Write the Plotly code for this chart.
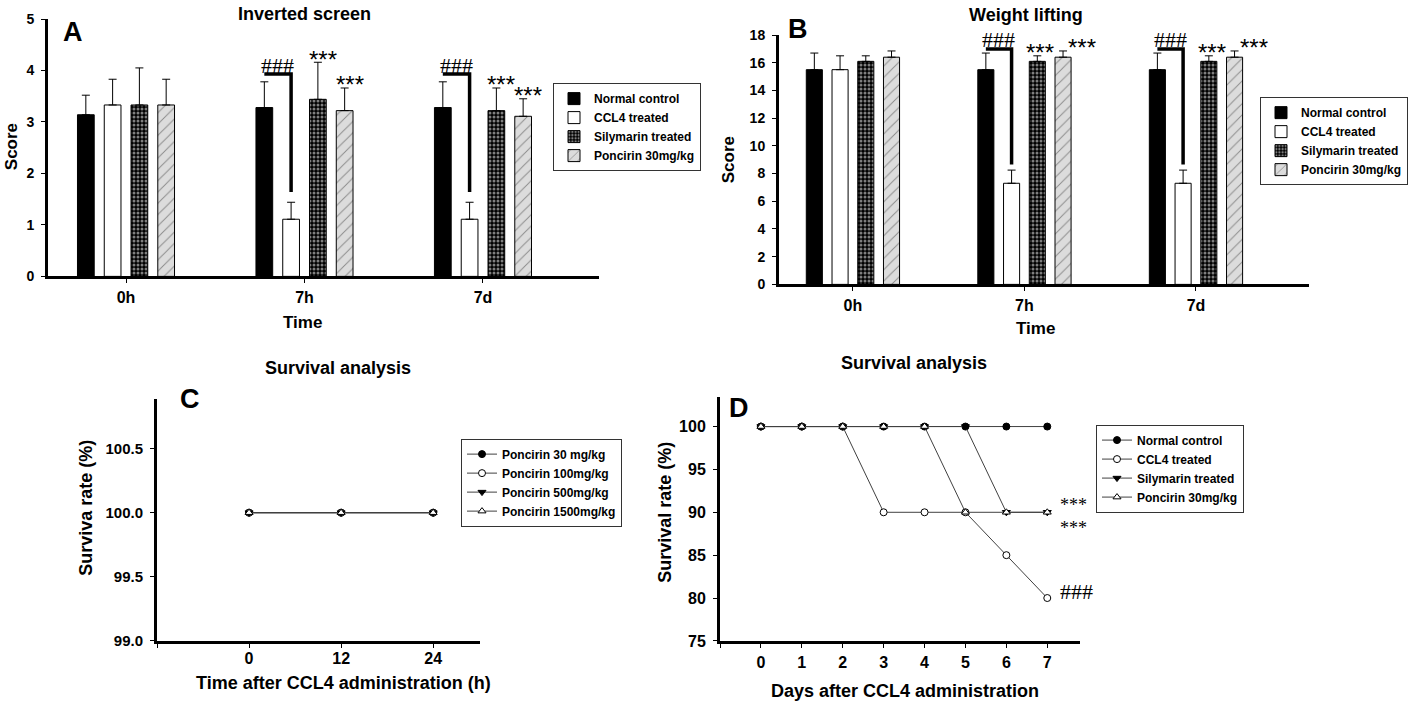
import plotly.graph_objects as go

W, H = 1418, 702
# the photographed picture maps page row y to 8 + 0.9744*y; compensate so the
# picture lines up with the reference picture
Y_OFF, Y_SCALE = 8.0, 0.9744

# ---------------- data ----------------
time_points = [0, 1, 2]
time_labels = ["0h", "7h", "7d"]
group_names = ["Normal control", "CCL4 treated", "Silymarin treated", "Poncirin 30mg/kg"]

# Inverted screen (score, mean and upper SEM)
inv_normal = [3.14, 3.28, 3.28]
inv_normal_err = [0.38, 0.50, 0.50]
inv_ccl4 = [3.33, 1.11, 1.11]
inv_ccl4_err = [0.50, 0.33, 0.33]
inv_sily = [3.33, 3.44, 3.22]
inv_sily_err = [0.72, 0.72, 0.44]
inv_ponc = [3.33, 3.22, 3.11]
inv_ponc_err = [0.50, 0.44, 0.34]

# Weight lifting (score)
wl_normal = [15.5, 15.5, 15.5]
wl_normal_err = [1.2, 1.2, 1.2]
wl_ccl4 = [15.5, 7.3, 7.3]
wl_ccl4_err = [1.0, 0.95, 0.95]
wl_sily = [16.1, 16.1, 16.1]
wl_sily_err = [0.4, 0.4, 0.4]
wl_ponc = [16.4, 16.4, 16.4]
wl_ponc_err = [0.45, 0.45, 0.45]

# Survival, acute toxicity (C)
tox_hours = [0, 12, 24]
tox_names = ["Poncirin 30 mg/kg", "Poncirin 100mg/kg", "Poncirin 500mg/kg", "Poncirin 1500mg/kg"]
tox_p30 = [100, 100, 100]
tox_p100 = [100, 100, 100]
tox_p500 = [100, 100, 100]
tox_p1500 = [100, 100, 100]

# Survival after CCL4 (D)
surv_days = [0, 1, 2, 3, 4, 5, 6, 7]
surv_normal = [100, 100, 100, 100, 100, 100, 100, 100]
surv_ccl4 = [100, 100, 100, 90, 90, 90, 85, 80]
surv_sily = [100, 100, 100, 100, 100, 100, 90, 90]
surv_ponc = [100, 100, 100, 100, 100, 90, 90, 90]

# ---------------- styling ----------------
SANS = "Liberation Sans, Arial, sans-serif"
SERIF = "Liberation Serif, Times New Roman, serif"
BARGAP = 0.4
BARGROUPGAP = 0.375


def px(x):
    return x / W


def py(y):
    return 1 - ((y - Y_OFF) / Y_SCALE) / H


bar_styles = [
    dict(color="black", line=dict(color="black", width=1)),
    dict(color="white", line=dict(color="black", width=1)),
    dict(color="black", line=dict(color="black", width=1),
         pattern=dict(shape=".", fgcolor="white", bgcolor="black", size=4, solidity=0.45)),
    dict(color="#dcdcdc", line=dict(color="black", width=1),
         pattern=dict(shape="/", fgcolor="#3a3a3a", bgcolor="#dcdcdc", size=8, solidity=0.12)),
]

marker_styles = [
    dict(symbol="circle", size=7, color="black", line=dict(color="black", width=1)),
    dict(symbol="circle", size=7, color="white", line=dict(color="black", width=1)),
    dict(symbol="triangle-down", size=7, color="black", line=dict(color="black", width=1)),
    dict(symbol="triangle-up", size=7, color="white", line=dict(color="black", width=1)),
]

fig = go.Figure()

inv_means = [inv_normal, inv_ccl4, inv_sily, inv_ponc]
inv_errs = [inv_normal_err, inv_ccl4_err, inv_sily_err, inv_ponc_err]
wl_means = [wl_normal, wl_ccl4, wl_sily, wl_ponc]
wl_errs = [wl_normal_err, wl_ccl4_err, wl_sily_err, wl_ponc_err]

for k, name in enumerate(group_names):
    fig.add_trace(go.Bar(
        x=time_points, y=inv_means[k], name=name, marker=bar_styles[k],
        error_y=dict(type="data", symmetric=False, array=inv_errs[k], arrayminus=[0] * 3,
                     color="black", thickness=1, width=4),
        xaxis="x", yaxis="y", legend="legend"))
for k, name in enumerate(group_names):
    fig.add_trace(go.Bar(
        x=time_points, y=wl_means[k], name=name, marker=bar_styles[k],
        error_y=dict(type="data", symmetric=False, array=wl_errs[k], arrayminus=[0] * 3,
                     color="black", thickness=1, width=4),
        xaxis="x2", yaxis="y2", legend="legend2"))

tox_series = [tox_p30, tox_p100, tox_p500, tox_p1500]
for k, name in enumerate(tox_names):
    fig.add_trace(go.Scatter(
        x=tox_hours, y=tox_series[k], name=name, mode="lines+markers",
        line=dict(color="#404040", width=1), marker=marker_styles[k],
        xaxis="x3", yaxis="y3", legend="legend3"))

surv_series = [surv_normal, surv_ccl4, surv_sily, surv_ponc]
for k, name in enumerate(group_names):
    fig.add_trace(go.Scatter(
        x=surv_days, y=surv_series[k], name=name, mode="lines+markers",
        line=dict(color="#404040", width=1), marker=marker_styles[k],
        xaxis="x4", yaxis="y4", legend="legend4"))


def bar_x(i, k, n=4):
    slot = (1 - BARGAP) / n
    return i - (1 - BARGAP) / 2 + slot * (k + 0.5)


shapes = []
annotations = []


def sig_marks(means, errs, xref, yref, top_gap, low_gap, star_dx):
    for i in [1, 2]:
        x_nc = bar_x(i, 0)
        x_cc = bar_x(i, 1)
        y_top = means[0][i] + errs[0][i] + top_gap
        y_low = means[1][i] + errs[1][i] + low_gap
        shapes.append(dict(type="path", xref=xref, yref=yref,
                           path=f"M {x_nc},{y_top} L {x_cc},{y_top} L {x_cc},{y_low}",
                           line=dict(color="black", width=3.5)))
        annotations.append(dict(x=(x_nc + x_cc) / 2, y=y_top, xref=xref, yref=yref,
                                text="###", showarrow=False, yanchor="middle", yshift=9,
                                font=dict(family=SERIF, size=22, color="black")))
        for k in [2, 3]:
            annotations.append(dict(x=bar_x(i, k), y=means[k][i] + errs[k][i], xref=xref, yref=yref,
                                    text="***", showarrow=False, yanchor="middle",
                                    xshift=star_dx[k - 2], yshift=3,
                                    font=dict(family=SANS, size=24, color="black")))


sig_marks(inv_means, inv_errs, "x", "y", 0.15, 0.2, [5, 5])
sig_marks(wl_means, wl_errs, "x2", "y2", 0.3, 0.4, [3, 19])

# D significance marks (Silymarin and Poncirin share the 90 % end point)
annotations.append(dict(x=surv_days[-1], y=surv_ponc[-1], xref="x4", yref="y4",
                        text="***<br>***", showarrow=False, xanchor="left", yanchor="middle",
                        align="left", xshift=11, yshift=-4,
                        font=dict(family=SERIF, size=18, color="black")))
annotations.append(dict(x=surv_days[-1], y=surv_ccl4[-1], xref="x4", yref="y4", text="###",
                        showarrow=False, xanchor="left", yanchor="middle", xshift=11, yshift=7,
                        font=dict(family=SERIF, size=22, color="black")))


def text_ann(text, x, y, size=16, angle=0, bold=True, family=SANS):
    annotations.append(dict(x=px(x), y=py(y), xref="paper", yref="paper", text=text,
                            showarrow=False, xanchor="center", yanchor="middle", textangle=angle,
                            font=dict(family=family, size=size, color="black",
                                      weight="bold" if bold else "normal")))


# titles
text_ann("Inverted screen", 304, 14, 18)
text_ann("Weight lifting", 1026, 15, 18)
text_ann("Survival analysis", 338, 367, 18)
text_ann("Survival analysis", 914, 362, 18)
# panel letters
text_ann("A", 73, 32, 27)
text_ann("B", 798, 29, 27)
text_ann("C", 190, 398, 27)
text_ann("D", 739, 407, 27)
# axis titles
text_ann("Score", 11, 147, 17, -90)
text_ann("Time", 302, 322, 17)
text_ann("Score", 728, 160, 17, -90)
text_ann("Time", 1035, 328, 17)
text_ann("Surviva rate (%)", 86, 507, 18, -90)
text_ann("Time after CCL4 administration (h)", 343, 682, 18)
text_ann("Survival rate (%)", 665, 512, 18, -90)
text_ann("Days after CCL4 administration", 905, 690, 18)

tickfont = dict(family=SANS, size=14, color="black", weight="bold")
xtickfont = dict(family=SANS, size=16, color="black", weight="bold")
tickfont_c = dict(family=SANS, size=15, color="black", weight="bold")
tickfont_d = dict(family=SANS, size=16, color="black", weight="bold")

common_axis = dict(showline=True, linewidth=3, linecolor="black", ticks="outside", ticklen=4,
                   tickwidth=1, tickcolor="black", showgrid=False, zeroline=False)

legend_common = dict(bgcolor="white", bordercolor="#333333", borderwidth=1,
                     font=dict(family=SANS, size=12, color="black", weight="bold"),
                     xanchor="left", yanchor="top", traceorder="normal")

fig.update_layout(
    width=W, height=H,
    margin=dict(l=0, r=0, t=0, b=0),
    paper_bgcolor="white", plot_bgcolor="white",
    barmode="group", bargap=BARGAP, bargroupgap=BARGROUPGAP,
    xaxis=dict(domain=[px(48), px(599)], range=[-0.437, 2.65], anchor="y",
               tickvals=time_points, ticktext=time_labels, tickfont=xtickfont,
               ticklabelstandoff=0, **common_axis),
    yaxis=dict(domain=[py(276), py(19)], range=[0, 5], anchor="x", dtick=1,
               tickfont=tickfont, ticklabelstandoff=4, **common_axis),
    xaxis2=dict(domain=[px(779), px(1309)], range=[-0.431, 2.659], anchor="y2",
                tickvals=time_points, ticktext=time_labels, tickfont=xtickfont,
                ticklabelstandoff=0, **common_axis),
    yaxis2=dict(domain=[py(284), py(35)], range=[0, 18], anchor="x2", dtick=2,
                tickfont=tickfont, ticklabelstandoff=4, **common_axis),
    xaxis3=dict(domain=[px(157), px(480)], range=[-12, 30.1], anchor="y3",
                tickvals=[-12, 0, 12, 24], ticktext=["", "0", "12", "24"], tickfont=tickfont_d,
                ticklabelstandoff=-3, **common_axis),
    yaxis3=dict(domain=[py(640), py(398)], range=[99.0, 100.89], anchor="x3",
                tickvals=[99.0, 99.5, 100.0, 100.5], tickformat=".1f",
                tickfont=tickfont_c, ticklabelstandoff=4, **common_axis),
    xaxis4=dict(domain=[px(720), px(1080)], range=[-1, 7.8], anchor="y4",
                tickvals=[-1] + surv_days, ticktext=[""] + [str(d) for d in surv_days],
                tickfont=tickfont_d, ticklabelstandoff=1, **common_axis),
    yaxis4=dict(domain=[py(640), py(396)], range=[75, 103.5], anchor="x4",
                tickvals=[75, 80, 85, 90, 95, 100],
                tickfont=tickfont_d, ticklabelstandoff=4, **common_axis),
    legend=dict(x=px(553), y=py(83), **legend_common),
    legend2=dict(x=px(1260), y=py(97), **legend_common),
    legend3=dict(x=px(461), y=py(438), **legend_common),
    legend4=dict(x=px(1096), y=py(424), **legend_common),
    shapes=shapes,
    annotations=annotations,
    showlegend=True,
)

# place the figure at the page's top-left corner so it fills the window exactly
POST = ("document.body.style.margin='0px';document.body.style.padding='0px';"
        "document.body.style.overflow='hidden';"
        "var gd=document.getElementById('{plot_id}');"
        "gd.style.position='absolute';gd.style.left='0px';gd.style.top='0px';")

fig.write_html("out.html", post_script=POST, config={"displayModeBar": False})
